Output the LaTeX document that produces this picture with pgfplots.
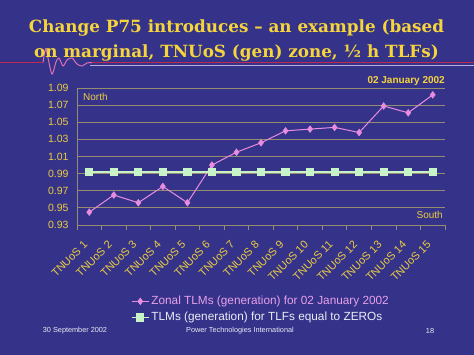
\documentclass[border=0pt]{standalone}
\usepackage{pgfplots}
\pgfplotsset{compat=1.18}
\usepackage{fontspec}
\setmainfont{Liberation Sans}
\newfontfamily\titlefont{DejaVu Serif}
\definecolor{bg}{RGB}{53,51,137}
\definecolor{ylw}{RGB}{236,204,64}
\definecolor{tyl}{RGB}{245,212,60}
\definecolor{gridc}{RGB}{150,140,112}
\definecolor{pinkS}{RGB}{232,140,224}
\definecolor{pinkT}{RGB}{232,160,232}
\definecolor{greenS}{RGB}{200,242,200}
\definecolor{redl}{RGB}{190,40,80}
\definecolor{lav}{RGB}{190,170,220}
\definecolor{ftxt}{RGB}{235,235,245}
\begin{document}
\begin{tikzpicture}[x=1pt,y=1pt]
\useasboundingbox (0,0) rectangle (474,-355);
\fill[bg] (0,0) rectangle (474,-355);
\draw[lav, line width=1pt] (90,-66) -- (474,-66);
\draw[redl, line width=1.2pt] (0,-62.5) -- (43,-62.5);
\draw[redl, line width=1.2pt] (92,-62.5) -- (474,-62.5);
\draw[pinkS!70!redl, line width=1pt] plot[smooth] coordinates {(43,-62.5) (45.5,-49) (48,-58) (52,-74) (56,-62) (59,-58) (63,-66) (67,-60) (72,-58) (77,-64) (82,-66) (87,-63) (92,-62.5)};
\node[tyl, font=\titlefont\bfseries\fontsize{16.8}{25}\selectfont, align=center] at (236.5,-40) {Change P75 introduces – an example (based\\on marginal, TNUoS (gen) zone, ½ h TLFs)};
\node[tyl, font=\bfseries\fontsize{10}{12}\selectfont, anchor=east, inner sep=0pt] at (445,-81) {02 January 2002};
\begin{axis}[at={(77pt,-225pt)}, anchor=south west, scale only axis,
  width=368pt, height=137pt,
  xmin=0.5, xmax=15.5, ymin=0.93, ymax=1.09,
  ytick={0.93,0.95,0.97,0.99,1.01,1.03,1.05,1.07,1.09},
  xtick={1,...,15},
  xticklabels={TNUoS 1,TNUoS 2,TNUoS 3,TNUoS 4,TNUoS 5,TNUoS 6,TNUoS 7,TNUoS 8,TNUoS 9,TNUoS 10,TNUoS 11,TNUoS 12,TNUoS 13,TNUoS 14,TNUoS 15},
  minor xtick={0.5,1.5,...,15.5},
  major tick length=0pt, minor tick length=5pt, tick align=outside,
  tick style={gridc, line width=0.8pt},
  axis x line*=bottom, axis y line*=left,
  axis line style={-, gridc, line width=0.8pt},
  ymajorgrids, major grid style={gridc, line width=0.8pt},
  /pgf/number format/assume math mode=true,
  yticklabel style={ylw, font=\fontsize{10.5}{12}\selectfont, xshift=-5pt, /pgf/number format/.cd, fixed, fixed zerofill, precision=2},
  xticklabel style={ylw, font=\fontsize{11}{13}\selectfont, yshift=-17pt, xshift=-3pt, rotate=45, anchor=east, inner sep=1pt},
  legend style={at={(0.5,-0.49)}, anchor=north, draw=none, fill=none, font=\fontsize{11.8}{14}\selectfont, row sep=2pt},
  legend cell align=left,
  clip=false,
]
\addplot[pinkS, line width=1pt, mark=diamond*, mark size=3pt, mark options={fill=pinkS, draw=pinkS}] coordinates {
(1,0.945) (2,0.965) (3,0.956) (4,0.975) (5,0.956) (6,1.000) (7,1.015) (8,1.026) (9,1.040) (10,1.042) (11,1.044) (12,1.038) (13,1.069) (14,1.061) (15,1.082)};
\addlegendentry{\textcolor{pinkT}{Zonal TLMs (generation) for 02 January 2002}}
\addplot[greenS, line width=1.2pt, mark=square*, mark size=3.5pt, mark options={fill=greenS, draw=greenS}] coordinates {
(1,0.992) (2,0.992) (3,0.992) (4,0.992) (5,0.992) (6,0.992) (7,0.992) (8,0.992) (9,0.992) (10,0.992) (11,0.992) (12,0.992) (13,0.992) (14,0.992) (15,0.992)};
\addlegendentry{\textcolor{ftxt}{TLMs (generation) for TLFs equal to ZEROs}}
\end{axis}
\node[ylw, font=\fontsize{10}{12}\selectfont, anchor=west, inner sep=0pt] at (83,-97) {North};
\node[ylw, font=\fontsize{10}{12}\selectfont, anchor=east, inner sep=0pt] at (443,-215) {South};
\node[ftxt, font=\fontsize{7.3}{8}\selectfont] at (75,-331) {30 September 2002};
\node[ftxt, font=\fontsize{7.3}{8}\selectfont] at (240,-331) {Power Technologies International};
\node[ftxt, font=\fontsize{7.3}{8}\selectfont] at (430,-331) {18};
\end{tikzpicture}
\end{document}
